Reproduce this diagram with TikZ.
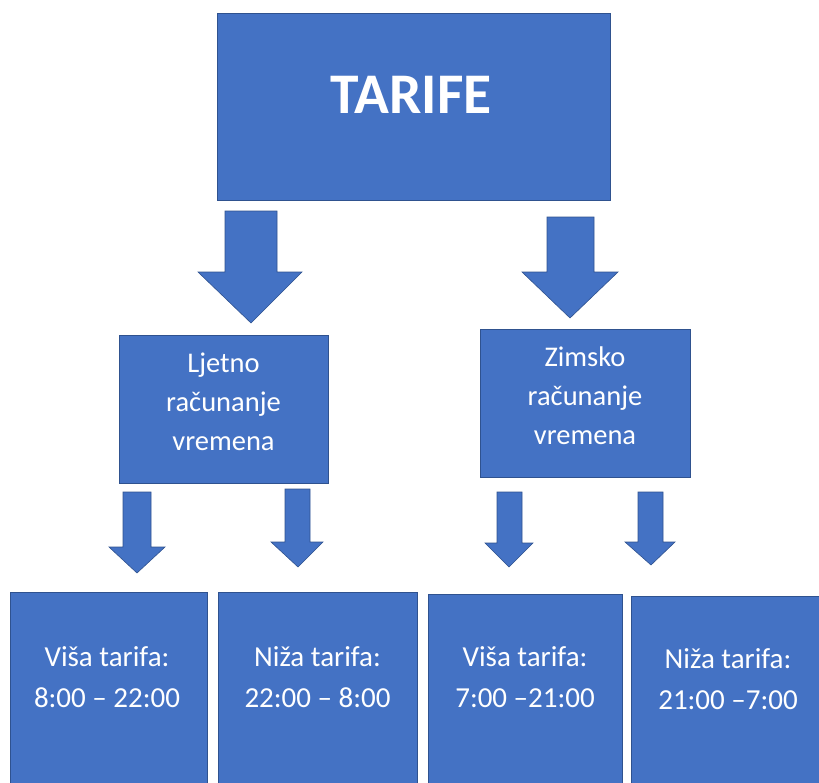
\documentclass[tikz,border=0pt]{standalone}
\usepackage{fontspec}
\setmainfont{Carlito}
\definecolor{offblue}{RGB}{68,114,196}
\definecolor{offline}{RGB}{47,82,143}
\begin{document}
\begin{tikzpicture}[x=1pt,y=-1pt,
  box/.style={draw=offline, line width=0.8pt, fill=offblue, inner sep=0pt},
  lbl/.style={text=white, align=center, inner sep=0pt, font=\fontsize{28.5}{39}\selectfont},
  tlbl/.style={text=white, align=center, inner sep=0pt, font=\fontsize{29}{41}\selectfont},
  barrow/.style={draw=offline, line width=0.6pt, fill=offblue, line join=miter}]
\useasboundingbox (0,0) rectangle (819,782);
% boxes
\node[box, minimum width=393, minimum height=187] (top) at (413.5,106.5) {};
\node[box, minimum width=209, minimum height=148] (ljeto) at (223.5,409) {};
\node[box, minimum width=210, minimum height=148] (zima) at (585,403) {};
\node[box, minimum width=197, minimum height=208] (b1) at (108.5,696) {};
\node[box, minimum width=199, minimum height=208] (b2) at (317.5,696) {};
\node[box, minimum width=194, minimum height=206] (b3) at (525,697) {};
\node[box, minimum width=199, minimum height=204] (b4) at (730.5,698) {};
% labels
\node[lbl, font=\bfseries\fontsize{57.5}{60}\selectfont] (ttop) at (411,95) {TARIFE};
\node[lbl] (tljeto) at (223.5,402) {Ljetno\\računanje\\vremena};
\node[lbl] (tzima) at (585,396) {Zimsko\\računanje\\vremena};
\node[tlbl] (tb1) at (107,677) {Viša tarifa:\\8:00 – 22:00};
\node[tlbl] (tb2) at (317.5,677) {Niža tarifa:\\22:00 – 8:00};
\node[tlbl] (tb3) at (525,677) {Viša tarifa:\\7:00 –21:00};
\node[tlbl] (tb4) at (728,679) {Niža tarifa:\\21:00 –7:00};
% block arrows
\draw[barrow] (225,211) -- (277,211) -- (277,272) -- (302,272) -- (251,323) -- (198,272) -- (225,272) -- cycle;
\draw[barrow] (547,217) -- (594,217) -- (594,272) -- (618,272) -- (570,318) -- (522,272) -- (547,272) -- cycle;
\draw[barrow] (123,492) -- (151,492) -- (151,547) -- (165,547) -- (137,573) -- (109,547) -- (123,547) -- cycle;
\draw[barrow] (285,489) -- (310,489) -- (310,542) -- (323,542) -- (298,567) -- (271,542) -- (285,542) -- cycle;
\draw[barrow] (497,492) -- (522,492) -- (522,543) -- (533,543) -- (509,567) -- (485,543) -- (497,543) -- cycle;
\draw[barrow] (638,492) -- (663,492) -- (663,542) -- (675,542) -- (651,565) -- (625,542) -- (638,542) -- cycle;
\end{tikzpicture}
\end{document}
